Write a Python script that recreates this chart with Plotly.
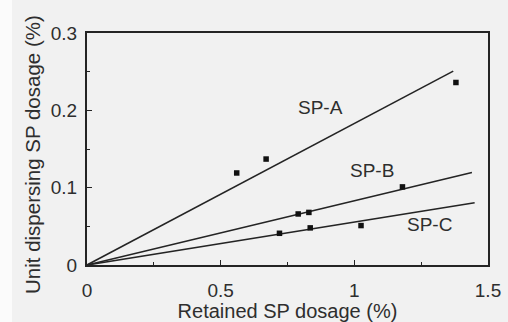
import plotly.graph_objects as go

# Measured points: retained SP dosage (%) vs unit dispersing SP dosage (%)
sp_a_x = [0.56, 0.67, 1.38]
sp_a_y = [0.119, 0.137, 0.236]
sp_b_x = [0.79, 0.83, 1.18]
sp_b_y = [0.066, 0.068, 0.101]
sp_c_x = [0.72, 0.835, 1.025]
sp_c_y = [0.041, 0.048, 0.051]

# Fitted lines through the origin (slope, end of line on x)
fit_slopes = {"SP-A": 0.183, "SP-B": 0.083, "SP-C": 0.0555}
fit_ends = {"SP-A": 1.37, "SP-B": 1.44, "SP-C": 1.45}

# Label positions for each series
label_pos = {"SP-A": (0.875, 0.204), "SP-B": (1.065, 0.122), "SP-C": (1.28, 0.053)}

x_title = "Retained SP dosage (%)"
y_title = "Unit dispersing SP dosage (%)"

ink = "#242424"
txt = "#2e2e2e"
font_family = "Liberation Sans, Arial"
fig = go.Figure()

for name in ["SP-A", "SP-B", "SP-C"]:
    xe = fit_ends[name]
    fig.add_trace(go.Scatter(
        x=[0, xe], y=[0, fit_slopes[name] * xe], mode="lines",
        line=dict(color=ink, width=1.6), showlegend=False, hoverinfo="skip"))

for xs, ys in [(sp_a_x, sp_a_y), (sp_b_x, sp_b_y), (sp_c_x, sp_c_y)]:
    fig.add_trace(go.Scatter(
        x=xs, y=ys, mode="markers",
        marker=dict(symbol="square", size=5.5, color="#111111"),
        showlegend=False))

for name, (lx, ly) in label_pos.items():
    fig.add_annotation(x=lx, y=ly, text=name, showarrow=False,
                       font=dict(family=font_family, size=19, color=txt))

axis_common = dict(
    showline=True, linecolor=ink, linewidth=2, mirror=True,
    showgrid=False, zeroline=False, automargin=False,
    ticks="inside", ticklen=5, tickwidth=1.2, tickcolor=ink,
    tickfont=dict(family=font_family, size=19, color=txt),
)

fig.update_xaxes(
    range=[0, 1.5], tickvals=[0, 0.5, 1, 1.5], ticktext=["0", "0.5", "1", "1.5"],
    ticklabelstandoff=7,
    title=dict(text=x_title, standoff=2,
               font=dict(family=font_family, size=20, color=txt)),
    minor=dict(ticks="inside", ticklen=3, tickcolor=ink, dtick=0.25),
    **axis_common)
fig.update_yaxes(
    range=[0, 0.3], tickvals=[0, 0.1, 0.2, 0.3], ticktext=["0", "0.1", "0.2", "0.3"],
    ticklabelstandoff=4,
    minor=dict(ticks="inside", ticklen=3, tickcolor=ink, dtick=0.05),
    **axis_common)

# vertical axis title, placed a little below the plot-area centre
fig.add_annotation(text=y_title, textangle=-90, showarrow=False,
                   xref="paper", yref="paper", x=(32 - 87) / 401, y=(265 - 155) / 232,
                   xanchor="center", yanchor="middle",
                   font=dict(family=font_family, size=20.5, color=txt))

# lighter strip along the left page edge
fig.add_shape(type="rect", xref="paper", yref="paper",
              x0=-87 / 401, x1=(12 - 87) / 401, y0=-57 / 232, y1=(322 - 57) / 232,
              fillcolor="#fbfbfb", line=dict(width=0), layer="below")

fig.update_layout(
    width=508, height=322,
    margin=dict(l=87, r=20, t=33, b=57, autoexpand=False),
    paper_bgcolor="#f1f1f1", plot_bgcolor="#f1f1f1",
)

fig.write_html("out.html")
